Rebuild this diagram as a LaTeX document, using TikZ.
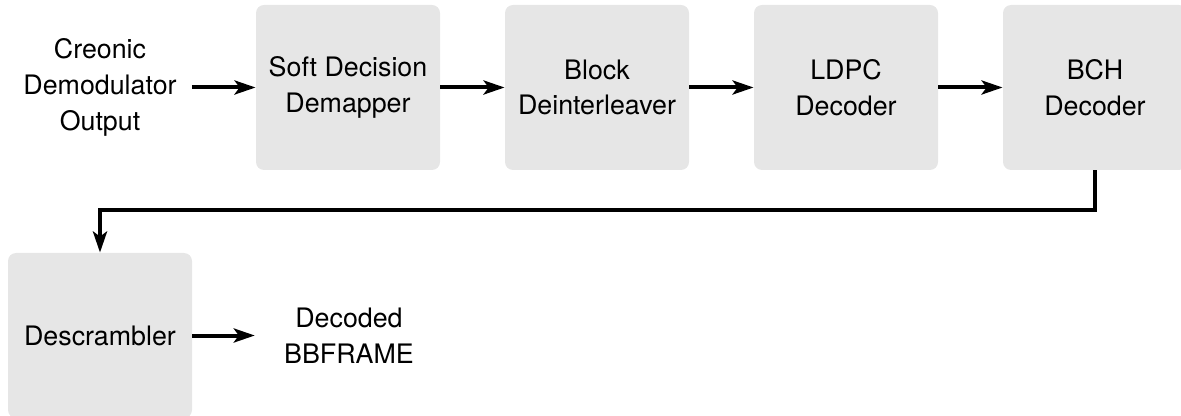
\documentclass[tikz,border=0pt]{standalone}
\usepackage{fontspec}
\setmainfont{TeX Gyre Heros}
\usepackage{tikz}
\usetikzlibrary{arrows.meta}
\definecolor{boxgray}{HTML}{E6E6E6}
\tikzset{
  block/.style={fill=boxgray, rounded corners=4pt, minimum width=92pt,
    minimum height=82.5pt, inner sep=0pt, align=center,
    font=\fontsize{13.4}{17.8}\selectfont},
  txt/.style={align=center, inner sep=7.5pt, font=\fontsize{13.4}{17.8}\selectfont},
  flow/.style={-{Stealth[length=10.5pt,width=7pt,inset=2.5pt]}, line width=2pt}
}

\begin{document}
\begin{tikzpicture}[x=0.5pt,y=-0.5pt]
\useasboundingbox (0,0) rectangle (1181,416);
% first row
\node[txt] (in) at (100,87.5) {Creonic\\Demodulator\\Output};
\node[block] (dmap) at (348,87.5) {Soft Decision\\Demapper};
\node[block] (dint) at (597,87.5) {Block\\Deinterleaver};
\node[block] (ldpc) at (846,87.5) {LDPC\\Decoder};
\node[block] (bch) at (1095,87.5) {BCH\\Decoder};
% second row
\node[block] (desc) at (100,335.5) {Descrambler};
\node[txt, inner xsep=14.5pt] (out) at (349,335.5) {Decoded\\BBFRAME};
\draw[flow] (in.east) -- (dmap.west);
\draw[flow] (dmap.east) -- (dint.west);
\draw[flow] (dint.east) -- (ldpc.west);
\draw[flow] (ldpc.east) -- (bch.west);
\draw[flow] (bch.south) -- ++(0,39.5) -| (desc.north);
\draw[flow] (desc.east) -- (out.west);
\end{tikzpicture}
\end{document}
